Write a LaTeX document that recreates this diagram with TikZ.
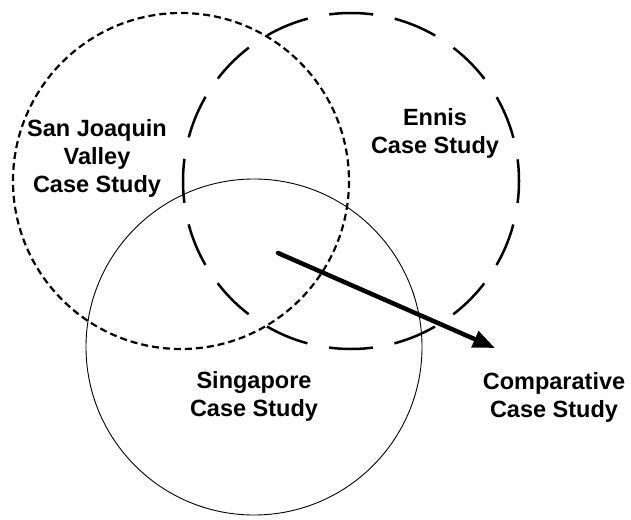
\documentclass[tikz,border=0pt]{standalone}
\usepackage{fontspec}
\setmainfont{Liberation Sans}
\usetikzlibrary{arrows.meta}
\begin{document}
\begin{tikzpicture}[x=1pt,y=-1pt,
  cstext/.style={align=center, font=\fontsize{23.5}{28}\selectfont\bfseries, inner sep=0pt, anchor=base},
  dotring/.style={line width=2.2pt, dash pattern=on 7pt off 4pt},
  dashring/.style={line width=2.5pt, dash pattern=on 44pt off 22pt, dash phase=22pt},
  solidring/.style={line width=0.9pt},
  bigarrow/.style={line width=4.5pt, line cap=round, -{Triangle[length=22pt,width=17pt]}}]
\useasboundingbox (0,0) rectangle (631,519);
% circle centres
\coordinate (cSJ) at (181,181);
\coordinate (cEn) at (351,181);
\coordinate (cSg) at (254,347);
% the three case-study circles
\draw[dotring] (cSJ) circle[radius=168];
\draw[dashring] (cEn) circle[radius=168];
\draw[solidring] (cSg) circle[radius=168];
% labels (anchored at the baseline of their last line)
\node[cstext] (sjv) at (97,192) {San Joaquin\\Valley\\Case Study};
\node[cstext] (ennis) at (435,153) {Ennis\\Case Study};
\node[cstext] (sing) at (254,416) {Singapore\\Case Study};
\node[cstext] (comp) at (554,417) {Comparative\\Case Study};
% arrow towards the comparative study
\coordinate (from) at (278,253);
\coordinate (to) at (495,348);
\draw[bigarrow] (from) -- (to);
\end{tikzpicture}
\end{document}
